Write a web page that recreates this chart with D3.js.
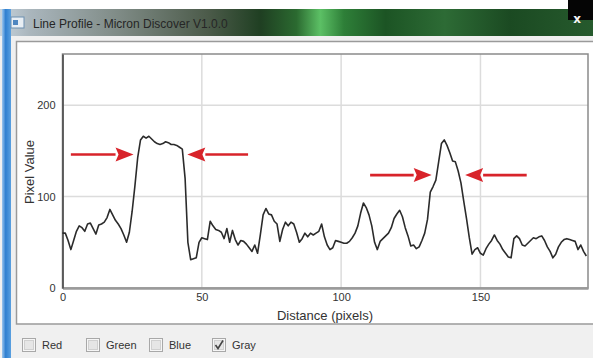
<!DOCTYPE html>
<html><head><meta charset="utf-8">
<script src="https://cdn.jsdelivr.net/npm/d3@7/dist/d3.min.js"></script>
<style>
html,body{margin:0;padding:0;background:#f0f0f0;overflow:hidden}
svg{display:block}
</style></head>
<body>
<svg id="c" width="593" height="358"></svg>
<script>
// ---- data ----
const titleText = "Line Profile - Micron Discover V1.0.0";
const xLabel = "Distance (pixels)";
const yLabel = "Pixel Value";
const xTicks = [0, 50, 100, 150];
const yTicks = [0, 100, 200];
// gray profile, one value per pixel distance 0..188
const grayValues = [
 60,60,52,42,52,62,68,66,62,70,
 71,65,59,69,70,72,77,86,80,74,
 70,65,58,50,61,84,112,143,162,166,
 164,166,163,160,158,157,158,160,159,157,
 157,156,154,152,120,50,31,32,33,50,
 55,54,53,73,68,64,63,61,54,65,
 50,63,53,47,52,51,48,44,40,47,
 38,58,80,87,81,80,73,70,51,64,
 72,68,72,70,61,50,54,60,56,60,
 58,60,62,70,56,47,42,44,52,51,
 50,49,49,51,55,60,68,82,93,88,
 80,68,50,42,51,54,57,60,66,76,
 81,85,78,66,57,46,47,43,45,52,
 60,75,105,111,118,138,158,162,156,148,
 139,138,128,115,95,76,55,37,42,44,
 38,36,43,48,52,58,52,48,42,38,
 34,33,54,57,54,47,46,49,52,55,
 54,56,57,52,45,40,33,37,45,50,
 53,54,53,52,51,42,47,40,35
];
// arrows: [tailDistance, tipDistance, value]
const arrows = [
 [3.0, 25.5, 146],
 [66.6, 44.8, 146],
 [110.4, 132.5, 123.5],
 [166.6, 144.5, 123.5]
];
const channels = ["Red", "Green", "Blue", "Gray"];
const checked = [false, false, false, true];

// ---- drawing ----
const svg = d3.select("#c");
const defs = svg.append("defs");

// window frame
const tg = defs.append("linearGradient").attr("id","tb").attr("x1","0").attr("x2","1").attr("y1","0").attr("y2","0");
[["0%","#c5d2dc"],["5%","#aab6bd"],["20%","#7f8b86"],["35%","#4c5b4a"],["44%","#1f3f22"],["50%","#2b6a30"],["54%","#5cc065"],["58%","#2e7f38"],["65%","#1c5424"],["75%","#2d6b35"],["86%","#1b4a22"],["100%","#265a2d"]]
 .forEach(s=>tg.append("stop").attr("offset",s[0]).attr("stop-color",s[1]));
const bg = defs.append("linearGradient").attr("id","be").attr("x1","0").attr("x2","1");
[["0%","#9cc6ee"],["40%","#2f7fd0"],["100%","#5aa0e0"]].forEach(s=>bg.append("stop").attr("offset",s[0]).attr("stop-color",s[1]));

svg.append("rect").attr("x",0).attr("y",0).attr("width",593).attr("height",358).attr("fill","#f0f0f0");
svg.append("rect").attr("x",0).attr("y",0).attr("width",593).attr("height",9).attr("fill","#ffffff");
svg.append("rect").attr("x",0).attr("y",9).attr("width",593).attr("height",27).attr("fill","url(#tb)");
svg.append("rect").attr("x",568).attr("y",0).attr("width",25).attr("height",20).attr("fill","#050505");
svg.append("rect").attr("x",2).attr("y",9).attr("width",9).attr("height",349).attr("fill","url(#be)");
// icon
svg.append("rect").attr("x",11).attr("y",17).attr("width",13).attr("height",11).attr("fill","#e8eef4").attr("stroke","#6c8fb0");
svg.append("rect").attr("x",13).attr("y",20).attr("width",5).attr("height",5).attr("fill","#4f86c0");
svg.append("text").attr("x",33).attr("y",28).attr("font-family","Liberation Sans, Arial, sans-serif")
 .attr("font-size",12).attr("fill","#262626").text(titleText);
svg.append("text").attr("x",577).attr("y",23).attr("text-anchor","middle").attr("font-family","DejaVu Sans, sans-serif")
 .attr("font-weight","bold").attr("font-size",12).attr("fill","#f4f4f4").text("x");

// chart panel
svg.append("rect").attr("x",16.5).attr("y",41.5).attr("width",590).attr("height",282.5)
 .attr("fill","#ffffff").attr("stroke","#9a9a9a").attr("stroke-width",1.5);

const x = d3.scaleLinear().domain([0, 188.6]).range([62.5, 588]);
const y = d3.scaleLinear().domain([0, 256]).range([288, 54]);

const g = svg.append("g");
// grid
g.selectAll(".vg").data(xTicks.filter(t=>t>0)).join("line")
 .attr("x1",d=>x(d)).attr("x2",d=>x(d)).attr("y1",y(256)).attr("y2",y(0))
 .attr("stroke","#dcdcdc").attr("stroke-width",1.5);
g.selectAll(".hg").data(yTicks.filter(t=>t>0)).join("line")
 .attr("x1",x(0)).attr("x2",x(188.6)).attr("y1",d=>y(d)).attr("y2",d=>y(d))
 .attr("stroke","#dcdcdc").attr("stroke-width",1.5);

// frame
g.append("rect").attr("x",x(0)).attr("y",y(256)).attr("width",x(188.6)-x(0)).attr("height",y(0)-y(256))
 .attr("fill","none").attr("stroke","#8a8a8a").attr("stroke-width",1.5);

// axes via d3
const xAxis = d3.axisBottom(x).tickValues(xTicks).tickSize(0).tickPadding(5).tickFormat(d3.format("d"));
const yAxis = d3.axisLeft(y).tickValues(yTicks).tickSize(0).tickPadding(6).tickFormat(d3.format("d"));
const xa = g.append("g").attr("transform",`translate(0,${y(0)})`).call(xAxis);
const ya = g.append("g").attr("transform",`translate(${x(0)},0)`).call(yAxis);
xa.select(".domain").attr("stroke","#9a9a9a").attr("stroke-width",2.5);
ya.select(".domain").attr("stroke","#555").attr("stroke-width",1.8);
[xa,ya].forEach(a=>a.selectAll("text").attr("font-family","Liberation Sans, Arial, sans-serif").attr("font-size",11).attr("fill","#333"));
ya.selectAll(".tick text").attr("dx",-1);

svg.append("text").attr("x",325).attr("y",320).attr("text-anchor","middle")
 .attr("font-family","Liberation Sans, Arial, sans-serif").attr("font-size",13).attr("fill","#333").text(xLabel);
svg.append("text").attr("transform","translate(34,172) rotate(-90)").attr("text-anchor","middle")
 .attr("font-family","Liberation Sans, Arial, sans-serif").attr("font-size",13).attr("fill","#333").text(yLabel);

// line
const line = d3.line().x((d,i)=>x(i)).y(d=>y(d));
g.append("path").datum(grayValues).attr("d",line).attr("fill","none")
 .attr("stroke","#2b2b2b").attr("stroke-width",1.6).attr("stroke-linejoin","round");

// arrows
const red = "#d8232a";
arrows.forEach(a=>{
  const x0 = x(a[0]), x1 = x(a[1]), yy = y(a[2]);
  const dir = Math.sign(x1 - x0), hl = 18, hw = 7;
  g.append("line").attr("x1",x0).attr("x2",x1 - dir*hl).attr("y1",yy).attr("y2",yy)
   .attr("stroke",red).attr("stroke-width",2.6);
  g.append("path").attr("d",`M${x1},${yy} L${x1-dir*hl},${yy-hw} L${x1-dir*hl+dir*3},${yy} L${x1-dir*hl},${yy+hw} Z`).attr("fill",red);
});

// checkboxes
const cbX = [22, 86, 149, 212];
const cb = svg.append("g");
channels.forEach((c,i)=>{
  cb.append("rect").attr("x",cbX[i]+0.5).attr("y",338.5).attr("width",13).attr("height",13)
   .attr("fill","#f6f6f6").attr("stroke","#a8a8a8");
  cb.append("rect").attr("x",cbX[i]+2.5).attr("y",340.5).attr("width",9).attr("height",9)
   .attr("fill","#e6e6e6").attr("stroke","#d0d0d0");
  if (checked[i]) {
    cb.append("path").attr("d",`M${cbX[i]+3.5},${345} L${cbX[i]+6},${348.5} L${cbX[i]+11},${340.5}`)
     .attr("fill","none").attr("stroke","#444").attr("stroke-width",1.6);
  }
  cb.append("text").attr("x",cbX[i]+20).attr("y",349).attr("font-family","Liberation Sans, Arial, sans-serif")
   .attr("font-size",11).attr("fill","#333").text(c);
});
</script>
</body></html>
